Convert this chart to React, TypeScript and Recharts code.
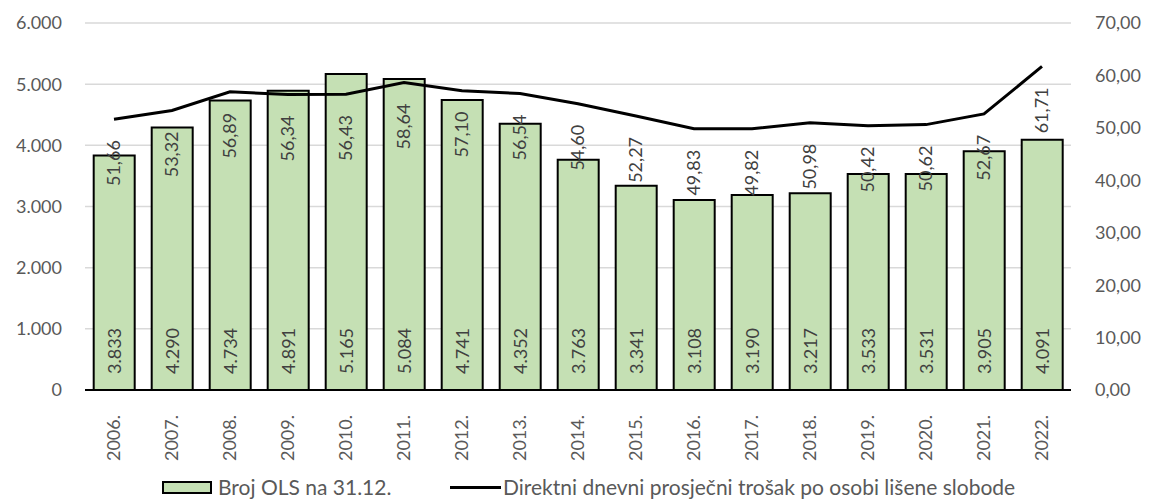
import {
  ComposedChart,
  Bar,
  Line,
  XAxis,
  YAxis,
  CartesianGrid,
  Legend,
  LabelList
} from 'recharts'

const years = [
  '2006.', '2007.', '2008.', '2009.', '2010.', '2011.', '2012.', '2013.', '2014.',
  '2015.', '2016.', '2017.', '2018.', '2019.', '2020.', '2021.', '2022.'
]

// Broj OLS na 31.12.
const olsCount = [
  3833, 4290, 4734, 4891, 5165, 5084, 4741, 4352, 3763,
  3341, 3108, 3190, 3217, 3533, 3531, 3905, 4091
]

// Direktni dnevni prosjecni trosak
const dailyCost = [
  51.66, 53.32, 56.89, 56.34, 56.43, 58.64, 57.1, 56.54, 54.6,
  52.27, 49.83, 49.82, 50.98, 50.42, 50.62, 52.67, 61.71
]

const leftTicks = [0, 1000, 2000, 3000, 4000, 5000, 6000]
const rightTicks = [0, 10, 20, 30, 40, 50, 60, 70]

const data = years.map((year, i) => ({
  year,
  ols: olsCount[i],
  cost: dailyCost[i]
}))

const FONT = 'Lato, "Liberation Sans", sans-serif'
const GREY = '#595959'
const LABEL = '#404040'

const fmtThousands = (v: number) =>
  String(v).replace(/\B(?=(\d{3})+(?!\d))/g, '.')
const fmtDecimal = (v: number) => v.toFixed(2).replace('.', ',')

const YearTick = (props: any) => {
  const { x, y, payload } = props
  return (
    <g transform={`translate(${x},${y + 17})`}>
      <text
        transform="rotate(-90)"
        textAnchor="end"
        dy="0.35em"
        fill={GREY}
        fontSize={18}
        fontFamily={FONT}
      >
        {payload.value}
      </text>
    </g>
  )
}

const BarValue = (props: any) => {
  const { x, y, width, height, value } = props
  const cx = x + width / 2
  const cy = y + height - 39
  return (
    <g transform={`translate(${cx},${cy})`}>
      <text
        transform="rotate(-90)"
        textAnchor="middle"
        dy="0.35em"
        fill={LABEL}
        fontSize={18}
        fontFamily={FONT}
      >
        {fmtThousands(value)}
      </text>
    </g>
  )
}

const LineValue = (props: any) => {
  const { x, y, value } = props
  return (
    <g transform={`translate(${x},${y + 21})`}>
      <text
        transform="rotate(-90)"
        textAnchor="end"
        dy="0.35em"
        fill={LABEL}
        fontSize={18}
        fontFamily={FONT}
      >
        {fmtDecimal(value)}
      </text>
    </g>
  )
}

const LegendBox = () => (
  <div
    style={{
      height: 30,
      paddingTop: 6,
      boxSizing: 'border-box',
      paddingLeft: 147,
      display: 'flex',
      alignItems: 'flex-start',
      fontFamily: FONT,
      fontSize: 21,
      lineHeight: '22px',
      color: GREY
    }}
  >
    <div style={{ width: 288, display: 'flex', alignItems: 'center' }}>
      <span
        style={{
          display: 'inline-block',
          width: 46,
          height: 9,
          background: '#c5e0b4',
          border: '2px solid #000',
          marginRight: 6
        }}
      />
      <span>Broj OLS na 31.12.</span>
    </div>
    <div style={{ display: 'flex', alignItems: 'center' }}>
      <span
        style={{
          display: 'inline-block',
          width: 51,
          height: 3,
          background: '#000',
          marginRight: 2
        }}
      />
      <span>Direktni dnevni prosječni trošak po osobi lišene slobode</span>
    </div>
  </div>
)

export default function App() {
  return (
    <div style={{ position: 'absolute', left: 0, top: 0, background: '#fff' }}>
      <ComposedChart
        width={1150}
        height={500}
        data={data}
        margin={{ top: 23, right: 9, bottom: 0, left: 15 }}
        barCategoryGap="15%"
      >
        <CartesianGrid yAxisId="left" vertical={false} stroke="#d9d9d9" strokeWidth={1.5} />
        <XAxis
          dataKey="year"
          interval={0}
          height={80}
          tickLine={false}
          axisLine={{ stroke: '#000', strokeWidth: 2 }}
          tick={<YearTick />}
        />
        <YAxis
          yAxisId="left"
          orientation="left"
          width={70}
          domain={[0, 6000]}
          ticks={leftTicks}
          tickFormatter={fmtThousands}
          axisLine={false}
          tickLine={false}
          tickSize={0}
          tickMargin={23}
          tick={{ fill: GREY, fontSize: 18, fontFamily: FONT }}
        />
        <YAxis
          yAxisId="right"
          orientation="right"
          width={70}
          domain={[0, 70]}
          ticks={rightTicks}
          tickFormatter={fmtDecimal}
          axisLine={false}
          tickLine={false}
          tickSize={0}
          tickMargin={24}
          tick={{ fill: GREY, fontSize: 18, fontFamily: FONT, textAnchor: 'start' }}
        />
        <Legend verticalAlign="bottom" content={<LegendBox />} />
        <Bar
          yAxisId="left"
          dataKey="ols"
          name="Broj OLS na 31.12."
          fill="#c5e0b4"
          stroke="#000"
          strokeWidth={2}
          isAnimationActive={false}
        >
          <LabelList dataKey="ols" content={<BarValue />} />
        </Bar>
        <Line
          yAxisId="right"
          type="linear"
          dataKey="cost"
          name="Direktni dnevni prosječni trošak po osobi lišene slobode"
          stroke="#000"
          strokeWidth={3}
          dot={false}
          activeDot={false}
          isAnimationActive={false}
        >
          <LabelList dataKey="cost" content={<LineValue />} />
        </Line>
      </ComposedChart>
    </div>
  )
}
